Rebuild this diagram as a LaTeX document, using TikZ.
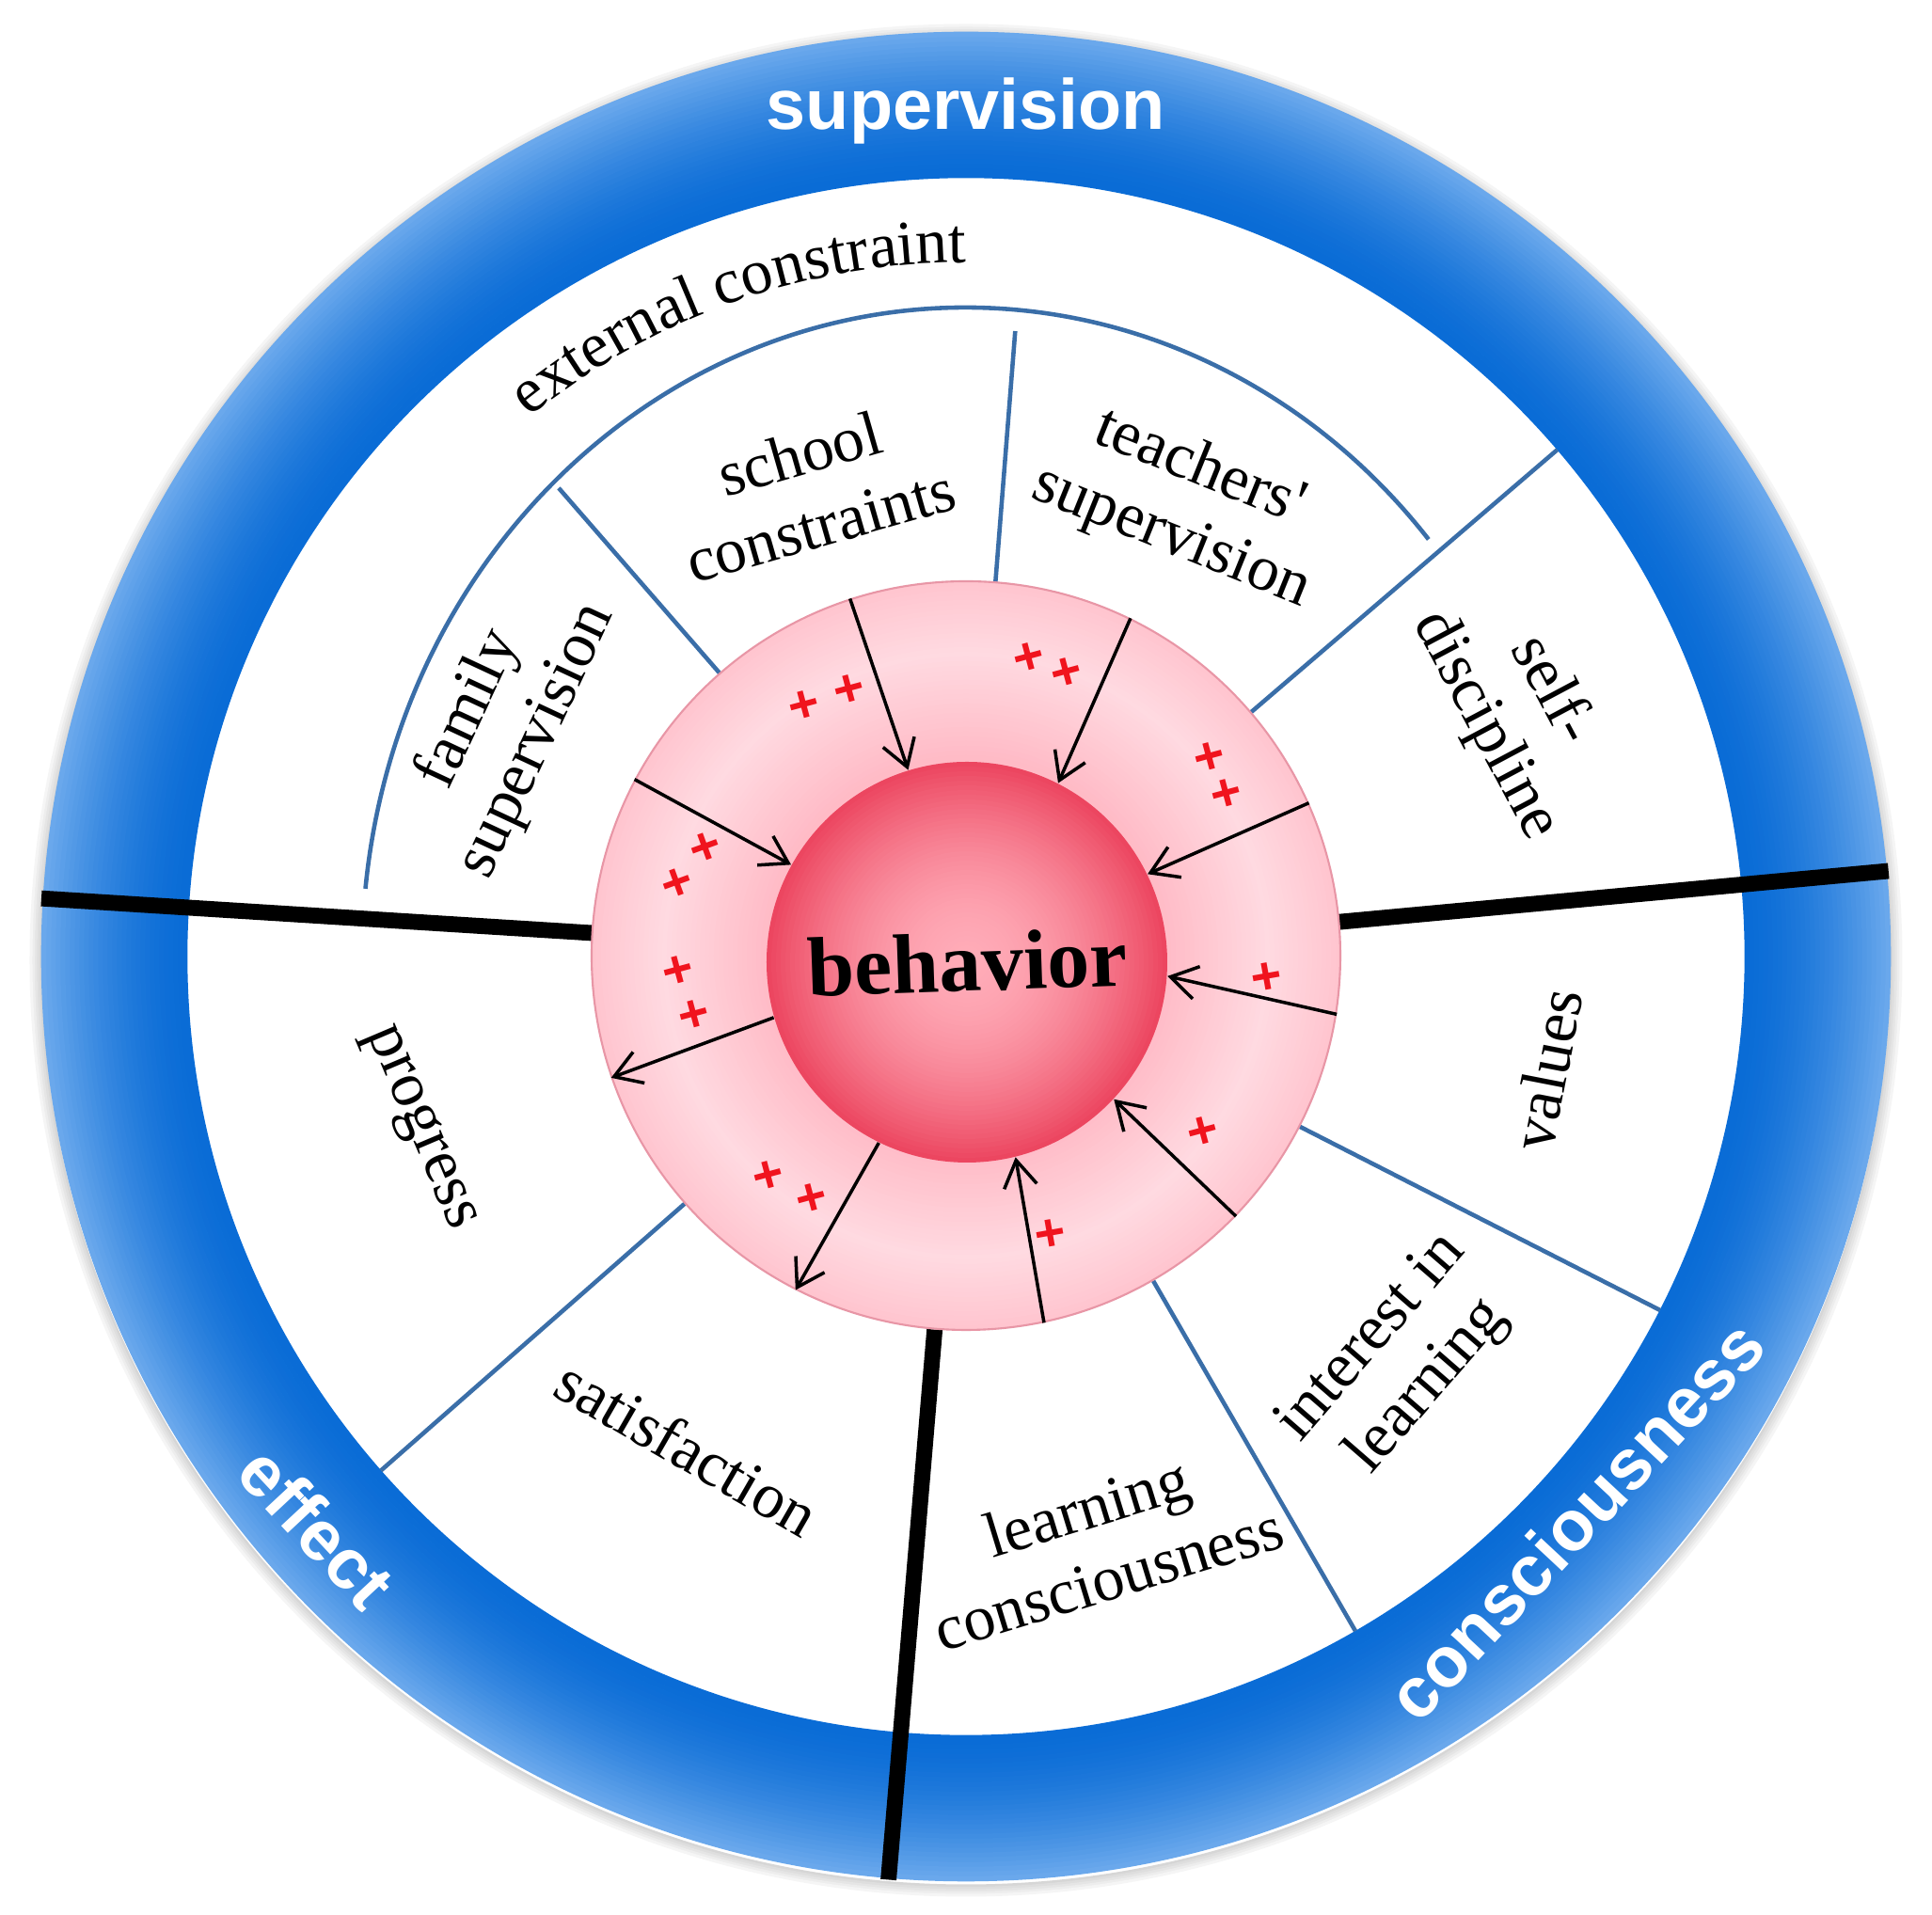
\documentclass[tikz,border=0pt]{standalone}
\usepackage{fontspec}
\setmainfont{Liberation Serif}
\setsansfont{Liberation Sans}
\newfontfamily\plainserif{Liberation Serif}
\usetikzlibrary{arrows.meta,decorations.text}

\definecolor{ringA}{RGB}{10,108,214}
\definecolor{ringD}{RGB}{106,168,236}
\definecolor{pinkA}{RGB}{255,184,196}
\definecolor{pinkB}{RGB}{255,218,225}
\definecolor{pinkline}{RGB}{232,150,166}
\definecolor{sphA}{RGB}{255,172,184}
\definecolor{sphD}{RGB}{236,70,96}
\definecolor{sepblue}{RGB}{58,110,168}
\definecolor{plusred}{RGB}{240,20,30}

\tikzset{
  lbl/.style={font=\fontsize{19.3}{22.5}\selectfont, align=center, inner sep=0pt},
  ringlbl/.style={font=\sffamily\bfseries\fontsize{21.5}{24}\selectfont, text=white, inner sep=0pt},
  sepline/.style={line width=1.3pt, color=sepblue},
  divider/.style={line width=4.8pt, black},
  arr/.style={line width=1pt, black, -{Straight Barb[length=8pt,width=10pt,line width=1pt]}},
  plusmark/.style={text=plusred, font=\sffamily\bfseries\fontsize{16}{16}\selectfont, inner sep=0pt}
}

\begin{document}
\begin{tikzpicture}
\useasboundingbox[fill=white] (-10.27,-10.19) rectangle (10.27,10.17);

% soft shadow under the ring
\foreach \i in {0,...,4} {
  \pgfmathsetmacro\rr{9.84+\i*0.025}
  \pgfmathsetmacro\gc{16-3*\i}
  \draw[line width=0.03cm, color=black!\gc] (0,-0.04) circle (\rr);
}
% outer blue ring (graded from dark inside to light outside)
\foreach \i in {0,...,30} {
  \pgfmathsetmacro\rr{8.305+\i*0.05}
  \pgfmathsetmacro\pc{100*(\i/30)^1.6}
  \draw[line width=0.056cm, color=ringD!\pc!ringA] (0,0) circle (\rr);
}

% thin blue separators
\draw[sepline] (174:6.42 and 6.90) arc[start angle=174, end angle=40, x radius=6.42, y radius=6.90];
\draw[sepline] (131:3.98) -- (131:6.60);
\draw[sepline] (85.5:3.98) -- (85.5:6.67);
\draw[sepline] (40.6:3.98) -- (40.6:8.28);
\draw[sepline] (-27:3.98) -- (-27:8.28);
\draw[sepline] (-60:3.98) -- (-60:8.28);
\draw[sepline] (221.3:3.98) -- (221.3:8.28);

% thick black dividers
\draw[divider] (176.4:3.98) -- (176.4:9.85);
\draw[divider] (5.3:3.98) -- (5.3:9.85);
\draw[divider] (265.2:3.98) -- (265.2:9.85);

% pink disc shading
\foreach \i in {0,...,37} {
  \pgfmathsetmacro\rr{3.98-\i*0.05}
  \pgfmathsetmacro\tt{(\rr-2.13)/1.85}
  \pgfmathsetmacro\w{max(0,100*(1-abs(\tt-0.6)/0.65))}
  \fill[color=pinkB!\w!pinkA] (0,0.01) circle (\rr);
}
% sphere shading
\foreach \i in {0,...,42} {
  \pgfmathsetmacro\rr{2.13-\i*0.05}
  \pgfmathsetmacro\pc{100*(\rr/2.13)^1.8}
  \fill[color=sphD!\pc!sphA] (0.01,-0.06) circle (\rr);
}

% pink disc and behavior sphere as nodes
\node[circle, minimum size=7.96cm, inner sep=0pt, draw=pinkline, line width=0.6pt] (pk) at (0,0.01) {};
\node[circle, minimum size=4.26cm, inner sep=0pt, font=\bfseries\fontsize{25.6}{28}\selectfont, rotate=2] (bh) at (0.01,-0.06) {behavior};

% arrows
\draw[arr] (pk.108) -- (bh.105.6);
\draw[arr] (pk.64) -- (bh.61);
\draw[arr] (pk.24) -- (bh.24);
\draw[arr] (pk.-9) -- (bh.-6);
\draw[arr] (pk.-44) -- (bh.-45);
\draw[arr] (pk.-78.5) -- (bh.-78);
\draw[arr] (bh.242) -- (pk.243);
\draw[arr] (bh.194.6) -- (pk.199);
\draw[arr] (pk.152.4) -- (bh.149);

% plus marks
\node[plusmark, rotate=15] (p1) at (-1.72,2.66) {+};
\node[plusmark, rotate=15] (p2) at (-1.24,2.83) {+};
\node[plusmark, rotate=15] (p3) at (0.67,3.17) {+};
\node[plusmark, rotate=15] (p4) at (1.07,3.01) {+};
\node[plusmark, rotate=15] (p5) at (2.59,2.11) {+};
\node[plusmark, rotate=15] (p6) at (2.77,1.72) {+};
\node[plusmark, rotate=20] (p7) at (-2.77,1.15) {+};
\node[plusmark, rotate=20] (p8) at (-3.07,0.77) {+};
\node[plusmark, rotate=15] (p9) at (-3.06,-0.16) {+};
\node[plusmark, rotate=15] (p10) at (-2.89,-0.63) {+};
\node[plusmark, rotate=10] (p11) at (3.20,-0.23) {+};
\node[plusmark, rotate=15] (p12) at (2.52,-1.87) {+};
\node[plusmark, rotate=10] (p13) at (0.90,-2.96) {+};
\node[plusmark, rotate=15] (p14) at (-2.10,-2.34) {+};
\node[plusmark, rotate=15] (p15) at (-1.64,-2.58) {+};

% section labels
\node[lbl, rotate=16] (t-school) at (-1.66,4.97) {school\\constraints};
\node[lbl, rotate=-22] (t-teach) at (2.33,4.82) {teachers{\plainserif '}\\supervision};
\node[lbl, rotate=65] (t-family) at (-4.92,2.46) {family\\supervision};
\node[lbl, rotate=-62] (t-self) at (5.87,2.64) {self-\\discipline};
\node[lbl, rotate=79] (t-values) at (6.17,-1.20) {values};
\node[lbl, rotate=49] (t-interest) at (4.62,-4.32) {interest in\\learning};
\node[lbl, rotate=17] (t-learn) at (1.40,-6.23) {learning\\consciousness};
\node[lbl, rotate=-30] (t-satis) at (-2.96,-5.22) {satisfaction};
\node[lbl, rotate=-67] (t-prog) at (-5.82,-1.83) {progress};

% curved label
\path[decorate, decoration={text along path, text align=center, text={|\fontsize{19.3}{23}\selectfont|external constraint}}] (134.5:7.38) arc[start angle=134.5, end angle=84.5, radius=7.38];

% ring labels
\node[ringlbl] (r-sup) at (0,8.99) {supervision};
\node[ringlbl, rotate=-47] (r-eff) at (-6.90,-6.07) {effect};
\node[ringlbl, rotate=47] (r-con) at (6.48,-5.99) {consciousness};
\end{tikzpicture}
\end{document}
